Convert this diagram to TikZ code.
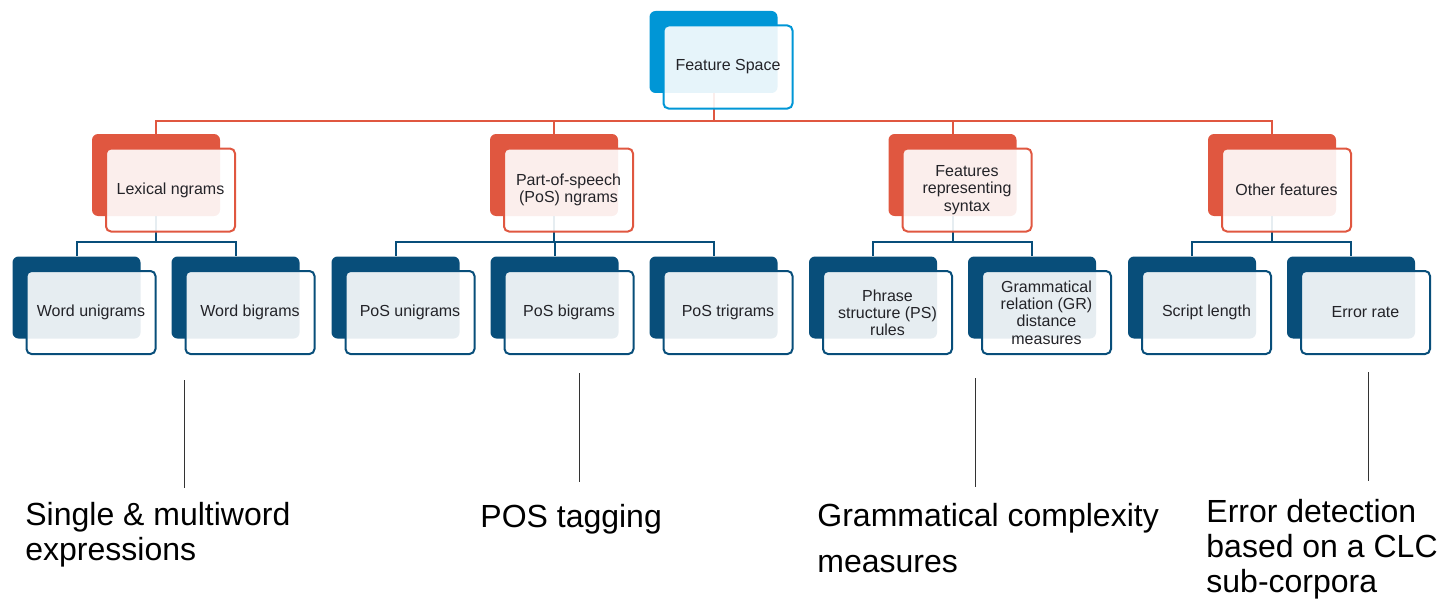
\documentclass[tikz,border=0pt]{standalone}
\usepackage{fontspec}
\setmainfont{Liberation Sans}
\definecolor{topblue}{RGB}{0,150,214}
\definecolor{catred}{RGB}{224,87,64}
\definecolor{leafblue}{RGB}{8,78,122}
\definecolor{boxtext}{RGB}{35,35,40}

\tikzset{
  back/.style={fill=#1, rounded corners=3pt, minimum width=64pt, minimum height=41pt, inner sep=0pt},
  front/.style={draw=#1, line width=1pt, fill=white, fill opacity=0.9, text opacity=1,
    rounded corners=2.5pt, minimum width=64.5pt, minimum height=41.5pt, inner sep=1pt,
    align=center, text=boxtext, font=\fontsize{8}{8.6}\selectfont, xshift=7.25pt, yshift=-7.5pt},
  link/.style={draw=#1, line width=1pt},
  tick/.style={draw=black!80, line width=0.5pt},
  remark/.style={anchor=base west, align=left, inner sep=0pt, font=\fontsize{16}{17.5}\selectfont}
}

\begin{document}
\begin{tikzpicture}[x=0.5pt, y=-0.5pt]
\useasboundingbox (0,0) rectangle (1443,599);

% back boxes
\node[back=topblue] (fs) at (713.5,52) {};
\node[back=catred] (lex) at (156,175) {};
\node[back=catred] (pos) at (554,175) {};
\node[back=catred] (syn) at (952.5,175) {};
\node[back=catred] (oth) at (1272,175) {};
\node[back=leafblue] (wuni) at (76.5,297.5) {};
\node[back=leafblue] (wbi) at (235.5,297.5) {};
\node[back=leafblue] (puni) at (395.5,297.5) {};
\node[back=leafblue] (pbi) at (554.5,297.5) {};
\node[back=leafblue] (ptri) at (713.5,297.5) {};
\node[back=leafblue] (psr) at (873,297.5) {};
\node[back=leafblue] (grd) at (1032,297.5) {};
\node[back=leafblue] (slen) at (1192,297.5) {};
\node[back=leafblue] (erate) at (1351,297.5) {};

% tree links
\coordinate (bus0) at (713.5,121);
\coordinate (bus1) at (156,242);
\coordinate (bus2) at (554,242);
\coordinate (bus3) at (952.5,242);
\coordinate (bus4) at (1272,242);
\draw[link=catred] (fs.south) -- (bus0);
\foreach \c in {lex,pos,syn,oth}
  \draw[link=catred] (bus0) -| (\c.north);
\draw[link=leafblue] (lex.south) -- (bus1);
\draw[link=leafblue] (bus1) -| (wuni.north);
\draw[link=leafblue] (bus1) -| (wbi.north);
\draw[link=leafblue] (pos.south) -- (bus2);
\foreach \c in {puni,pbi,ptri}
  \draw[link=leafblue] (bus2) -| (\c.north);
\draw[link=leafblue] (syn.south) -- (bus3);
\draw[link=leafblue] (bus3) -| (psr.north);
\draw[link=leafblue] (bus3) -| (grd.north);
\draw[link=leafblue] (oth.south) -- (bus4);
\draw[link=leafblue] (bus4) -| (slen.north);
\draw[link=leafblue] (bus4) -| (erate.north);

% front boxes with the labels
\node[front=topblue] (fsF) at (fs) {Feature Space};
\node[front=catred] (lexF) at (lex) {Lexical ngrams};
\node[front=catred] (posF) at (pos) {Part-of-speech\\(PoS) ngrams};
\node[front=catred] (synF) at (syn) {Features\\representing\\syntax};
\node[front=catred] (othF) at (oth) {Other features};
\node[front=leafblue] (wuniF) at (wuni) {Word unigrams};
\node[front=leafblue] (wbiF) at (wbi) {Word bigrams};
\node[front=leafblue] (puniF) at (puni) {PoS unigrams};
\node[front=leafblue] (pbiF) at (pbi) {PoS bigrams};
\node[front=leafblue] (ptriF) at (ptri) {PoS trigrams};
\node[front=leafblue] (psrF) at (psr) {Phrase\\structure (PS)\\rules};
\node[front=leafblue] (grdF) at (grd) {Grammatical\\relation (GR)\\distance\\measures};
\node[front=leafblue] (slenF) at (slen) {Script length};
\node[front=leafblue] (erateF) at (erate) {Error rate};

% pointers to the notes below
\coordinate (tick1a) at (184,380);  \coordinate (tick1b) at (184,488);
\coordinate (tick2a) at (579,373);  \coordinate (tick2b) at (579,482);
\coordinate (tick3a) at (975,378);  \coordinate (tick3b) at (975,487);
\coordinate (tick4a) at (1368,372); \coordinate (tick4b) at (1368,481);
\foreach \i in {1,...,4}
  \draw[tick] (tick\i a) -- (tick\i b);

% notes (base = last line)
\node[remark] (note1) at (25,560) {Single \& multiword\\expressions};
\node[remark] (note2) at (480,527) {POS tagging};
\node[remark, font=\fontsize{16}{23}\selectfont] (note3) at (817,572) {Grammatical complexity\\measures};
\node[remark] (note4) at (1206,592) {Error detection\\based on a CLC\\sub-corpora};
\end{tikzpicture}
\end{document}
